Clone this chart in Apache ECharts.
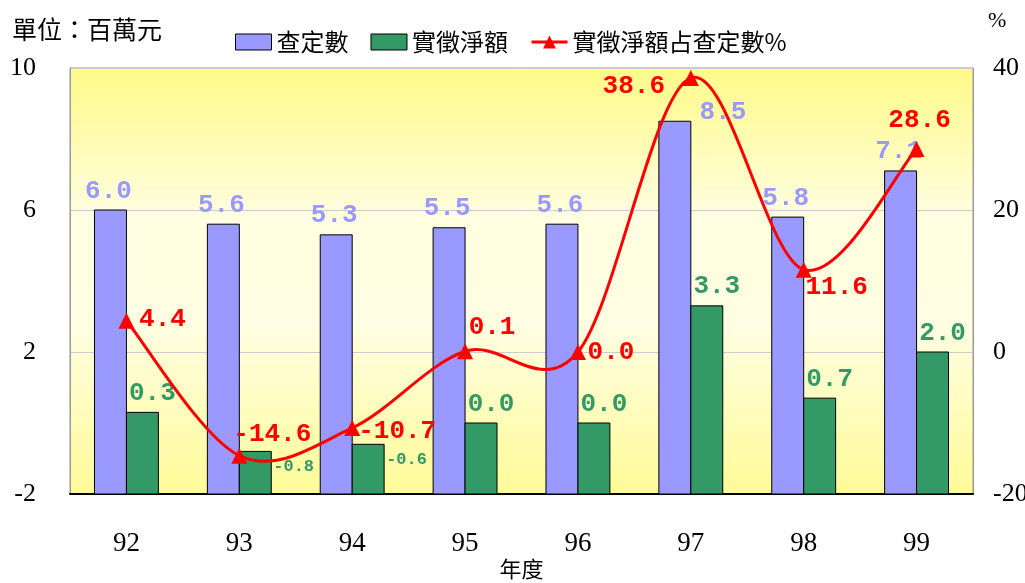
<!DOCTYPE html>
<html>
<head>
<meta charset="utf-8">
<script src="https://cdn.jsdelivr.net/npm/echarts@6/dist/echarts.min.js"></script>
<style>
html, body { margin: 0; padding: 0; background: #fff; }
#chart { width: 1025px; height: 583px; }
</style>
</head>
<body>
<div id="chart"></div>
<script>
// 年度
var years = ['92', '93', '94', '95', '96', '97', '98', '99'];
// 查定數 (百萬元)
var assessed = [6.0, 5.6, 5.3, 5.5, 5.6, 8.5, 5.8, 7.1];
// 實徵淨額 (百萬元)
var collected = [0.3, -0.8, -0.6, 0.0, 0.0, 3.3, 0.7, 2.0];
// 實徵淨額占查定數 %
var ratio = [4.4, -14.6, -10.7, 0.1, 0.0, 38.6, 11.6, 28.6];

var leftMin = -2, leftMax = 10, leftStep = 4;
var rightMin = -20, rightMax = 40, rightStep = 20;

// label offsets only (style, not data)
var ratioLabelOffset = [[36, -1], [33, -21], [45, 3], [27, -24], [33, 0], [-57, 9], [33, 18], [3, -28]];
var assessedLabelOffset = [[0, 0], [0, 0], [0, 0], [0, 0], [0, 0], [50, 10], [0, 0], [0, 0]];

var numFont = 'Liberation Mono';
var cjkFont = '"Noto Sans CJK TC", sans-serif';
var serif = '"Liberation Serif", serif';

var purple = '#9999ff';
var green = '#339966';
var red = '#ff0000';

function barRender(side, color, offs) {
  return function (params, api) {
    var idx = api.value(0);
    var v = api.value(1);
    var top = api.coord([idx, v]);
    var base = api.coord([idx, leftMin]);
    var band = api.size([1, 0])[0];
    var w = band * 0.283;
    var x0 = side < 0 ? top[0] - w : top[0];
    var txt;
    if (v < 0) {
      txt = {
        type: 'text',
        x: x0 + w + 2,
        y: top[1] + 15,
        style: {
          text: v.toFixed(1), fill: color, font: 'bold 17px ' + numFont,
          textAlign: 'left', textVerticalAlign: 'middle'
        }
      };
    } else {
      var o = offs ? offs[params.dataIndex] : [0, 0];
      txt = {
        type: 'text',
        x: x0 + w / 2 + (side < 0 ? -2 : 10) + o[0],
        y: top[1] - 6 + o[1],
        style: {
          text: v.toFixed(1), fill: color, font: 'bold 26px ' + numFont,
          textAlign: 'center', textVerticalAlign: 'bottom'
        }
      };
    }
    return {
      type: 'group',
      children: [
        {
          type: 'rect',
          shape: { x: x0, y: top[1], width: w, height: base[1] - top[1] },
          style: { fill: color, stroke: '#000', lineWidth: 1 }
        },
        txt
      ]
    };
  };
}

// one smooth (catmull-rom style) segment from point i to i+1
function curveRender(params, api) {
  var i = params.dataIndex;
  var n = ratio.length;
  if (i >= n - 1) return null;
  function pt(k) {
    k = Math.max(0, Math.min(n - 1, k));
    return api.coord([k, ratio[k]]);
  }
  var p0 = pt(i - 1), p1 = pt(i), p2 = pt(i + 1), p3 = pt(i + 2);
  var t = 1 / 6;
  return {
    type: 'bezierCurve',
    shape: {
      x1: p1[0], y1: p1[1],
      cpx1: p1[0] + (p2[0] - p0[0]) * t, cpy1: p1[1] + (p2[1] - p0[1]) * t,
      cpx2: p2[0] - (p3[0] - p1[0]) * t, cpy2: p2[1] - (p3[1] - p1[1]) * t,
      x2: p2[0], y2: p2[1]
    },
    style: { stroke: red, lineWidth: 3, fill: null }
  };
}

var chart = echarts.init(document.getElementById('chart'));

var option = {
  animation: false,
  textStyle: { fontFamily: serif },
  title: {
    text: '單位：百萬元',
    left: 7,
    top: 12,
    textStyle: { fontFamily: cjkFont, fontSize: 25, fontWeight: 'normal', color: '#000' }
  },
  graphic: [{
    type: 'text',
    left: 988,
    top: 10,
    style: { text: '%', font: '22px ' + serif, fill: '#000' }
  }],
  legend: {
    left: 230,
    top: 25,
    itemWidth: 36,
    itemHeight: 16,
    itemGap: 22,
    textStyle: { fontFamily: cjkFont, fontSize: 24, color: '#000' },
    data: [
      { name: '查定數', icon: 'rect', itemStyle: { color: purple, borderColor: '#000', borderWidth: 1 } },
      { name: '實徵淨額', icon: 'rect', itemStyle: { color: green, borderColor: '#000', borderWidth: 1 } },
      { name: '實徵淨額占查定數%', lineStyle: { color: red, width: 3, opacity: 1 } }
    ]
  },
  grid: {
    left: 70,
    right: 52,
    top: 68,
    bottom: 89,
    outerBoundsMode: 'none',
    containLabel: false,
    show: true,
    borderColor: '#999',
    borderWidth: 1,
    backgroundColor: {
      type: 'linear', x: 0, y: 0, x2: 0, y2: 1,
      colorStops: [
        { offset: 0, color: '#fffa88' },
        { offset: 0.35, color: '#fffee0' },
        { offset: 0.6, color: '#fffee2' },
        { offset: 1, color: '#fffb98' }
      ]
    }
  },
  xAxis: {
    type: 'category',
    data: years,
    name: '年度',
    nameLocation: 'middle',
    nameGap: 64,
    nameMoveOverlap: false,
    nameTextStyle: { fontFamily: cjkFont, fontSize: 22, color: '#000', verticalAlign: 'top' },
    axisLine: { onZero: false, lineStyle: { color: '#000', width: 2 } },
    axisTick: { inside: true, length: 6, lineStyle: { color: '#555' } },
    axisLabel: { margin: 36, fontSize: 27, color: '#000', fontFamily: serif }
  },
  yAxis: [
    {
      type: 'value',
      min: leftMin,
      max: leftMax,
      interval: leftStep,
      axisLine: { show: true, lineStyle: { color: '#999' } },
      axisTick: { show: false },
      axisLabel: { margin: 34, fontSize: 26, color: '#000', fontFamily: serif },
      splitLine: { lineStyle: { color: '#cccccc' } }
    },
    {
      type: 'value',
      min: rightMin,
      max: rightMax,
      interval: rightStep,
      axisLine: { show: true, lineStyle: { color: '#999' } },
      axisTick: { show: false },
      axisLabel: { margin: 20, fontSize: 26, color: '#000', fontFamily: serif },
      splitLine: { show: false }
    }
  ],
  series: [
    {
      name: '查定數',
      type: 'custom',
      itemStyle: { color: purple },
      encode: { x: 0, y: 1 },
      data: assessed.map(function (v, i) { return [i, v]; }),
      renderItem: barRender(-1, purple, assessedLabelOffset),
      z: 2
    },
    {
      name: '實徵淨額',
      type: 'custom',
      itemStyle: { color: green },
      encode: { x: 0, y: 1 },
      data: collected.map(function (v, i) { return [i, v]; }),
      renderItem: barRender(1, green, null),
      z: 2
    },
    {
      name: 'curve',
      type: 'custom',
      yAxisIndex: 1,
      encode: { x: 0, y: 1 },
      data: ratio.map(function (v, i) { return [i, v]; }),
      renderItem: curveRender,
      silent: true,
      z: 4
    },
    {
      name: '實徵淨額占查定數%',
      type: 'line',
      yAxisIndex: 1,
      symbol: 'triangle',
      symbolSize: 16,
      color: red,
      lineStyle: { color: red, width: 3, opacity: 0 },
      itemStyle: { color: red },
      z: 5,
      data: ratio.map(function (v, i) {
        return {
          value: v,
          label: { offset: ratioLabelOffset[i] }
        };
      }),
      label: {
        show: true,
        position: 'inside',
        color: red,
        fontFamily: numFont,
        fontWeight: 'bold',
        fontSize: 26,
        formatter: function (p) { return p.value.toFixed(1); }
      }
    }
  ]
};

chart.setOption(option);
</script>
</body>
</html>
